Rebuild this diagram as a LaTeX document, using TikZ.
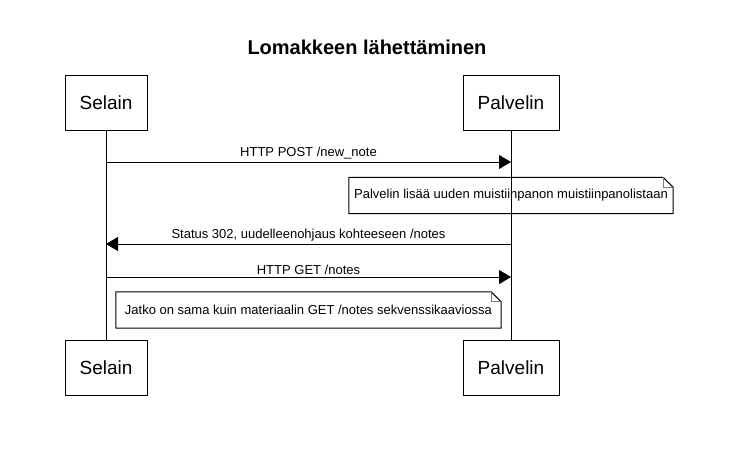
\documentclass[tikz,border=0pt]{standalone}
\usepackage{fontspec}
\setmainfont{Liberation Sans}
\usetikzlibrary{arrows.meta}
\tikzset{
    actor/.style={draw, line width=1pt, minimum height=55pt, font=\fontsize{19}{22}\selectfont, inner sep=0pt},
    msg/.style={line width=1pt, -{Triangle[length=12pt,width=14pt]}},
    msglabel/.style={font=\fontsize{13}{15}\selectfont, inner sep=2pt, anchor=south},
    notetext/.style={font=\fontsize{13}{15}\selectfont, inner sep=0pt, minimum height=36pt},
}
% note with folded top right corner
\newcommand\NoteBox[4]{%
    \node[notetext, minimum width=#3] (#1) at #2 {#4};
    \draw[line width=1pt] (#1.north west) -- ([xshift=-10pt]#1.north east)
        -- ([yshift=-10pt]#1.north east) -- (#1.south east) -- (#1.south west) -- cycle;
    \draw[line width=0.8pt, color=gray] ([xshift=-10pt]#1.north east) -- ([xshift=-10pt,yshift=-10pt]#1.north east)
        -- ([yshift=-10pt]#1.north east);
}
\begin{document}
\begin{tikzpicture}[x=1pt, y=-1pt]
    \useasboundingbox (0,0) rectangle (734,451);
    \node[font=\bfseries\fontsize{20}{24}\selectfont] (title) at (367,47) {Lomakkeen lähettäminen};
    % participants
    \node[actor, minimum width=82pt] (selainTop) at (106,102.5) {Selain};
    \node[actor, minimum width=96pt] (palvelinTop) at (511,102.5) {Palvelin};
    \node[actor, minimum width=82pt] (selainBot) at (106,367.5) {Selain};
    \node[actor, minimum width=96pt] (palvelinBot) at (511,367.5) {Palvelin};
    \draw[line width=1pt] (selainTop) -- (selainBot);
    \draw[line width=1pt] (palvelinTop) -- (palvelinBot);
    % messages
    \coordinate (s1) at (106,162); \coordinate (p1) at (511,162);
    \coordinate (s2) at (106,244); \coordinate (p2) at (511,244);
    \coordinate (s3) at (106,277); \coordinate (p3) at (511,277);
    \draw[msg] (s1) -- (p1) node[msglabel, midway] {HTTP POST /new\_note};
    \NoteBox{note1}{(511,195.5)}{324pt}{Palvelin lisää uuden muistiinpanon muistiinpanolistaan}
    \draw[msg] (p2) -- (s2) node[msglabel, midway] {Status 302, uudelleenohjaus kohteeseen /notes};
    \draw[msg] (s3) -- (p3) node[msglabel, midway] {HTTP GET /notes};
    \NoteBox{note2}{(308.5,310)}{385pt}{Jatko on sama kuin materiaalin GET /notes sekvenssikaaviossa}
\end{tikzpicture}
\end{document}
